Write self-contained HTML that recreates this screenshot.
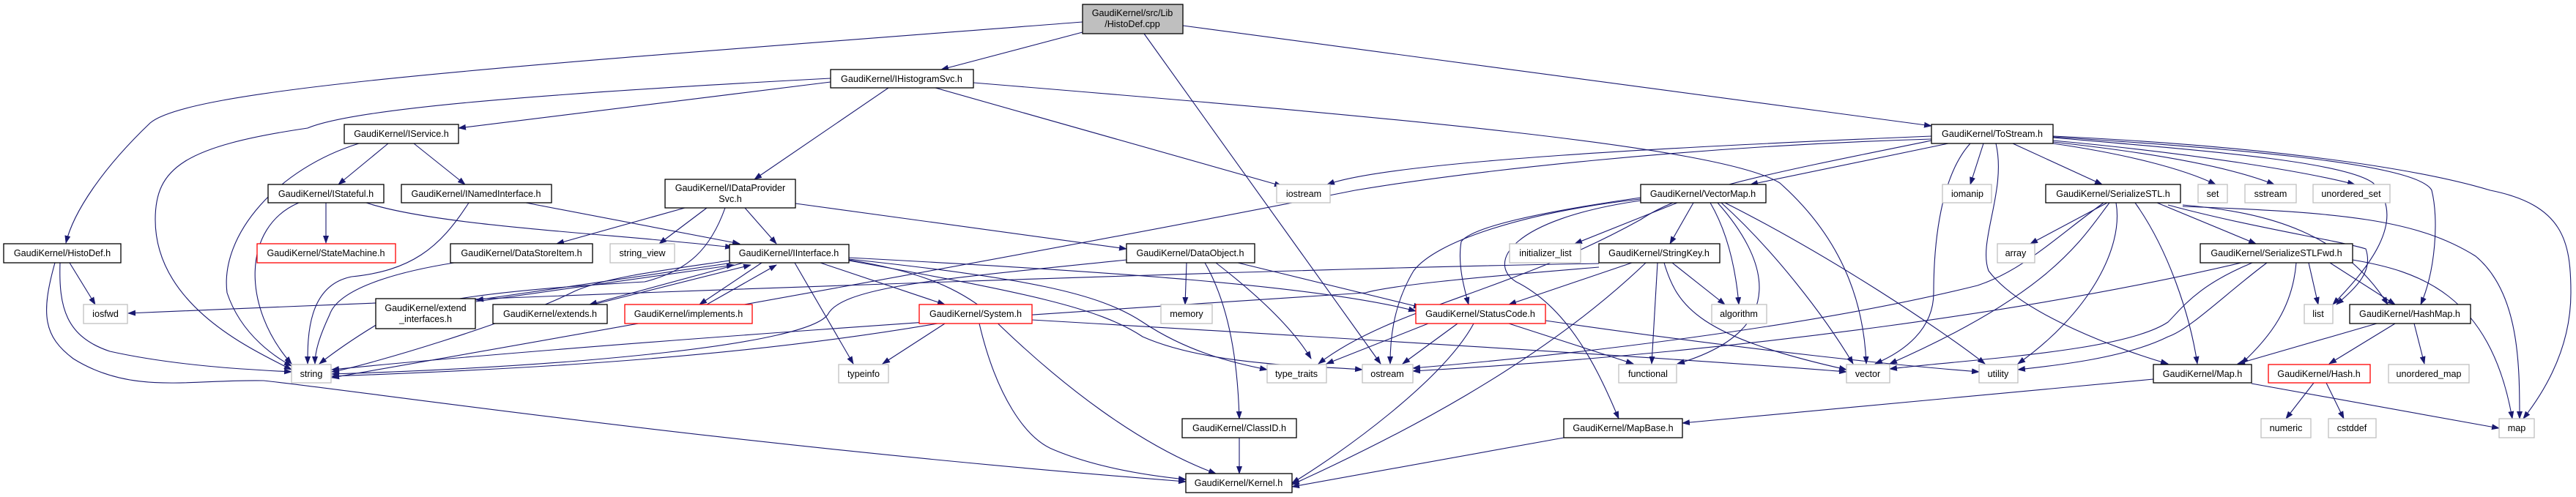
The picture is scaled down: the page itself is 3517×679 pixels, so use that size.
<!DOCTYPE html>
<html><head><meta charset="utf-8"><style>
html,body{margin:0;padding:0;background:#fff;}
svg{display:block}
text{font-family:"Liberation Sans",Arial,sans-serif;font-size:12.6px;fill:#000;text-anchor:middle}
.n{fill:#fff;stroke:#000;stroke-width:1.3}
.g{fill:#fff;stroke:#bfbfbf;stroke-width:1.3}
.r{fill:#fff;stroke:#ff0000;stroke-width:1.3}
.e{fill:none;stroke:#191970;stroke-width:1.1;marker-end:url(#a)}
</style></head><body>
<svg width="3517" height="679" viewBox="0 0 3517 679" xmlns="http://www.w3.org/2000/svg">
<defs><marker id="a" markerWidth="11" markerHeight="8" refX="10" refY="4" orient="auto" markerUnits="userSpaceOnUse"><path d="M0,0 L11,4 L0,8 z" fill="#191970"/></marker></defs>
<g>
<path class="e" d="M1478,30 C700,90 260,120 205,168 C140,230 100,290 90,332"/>
<path class="e" d="M1478,44 L1285,95"/>
<path class="e" d="M1615,35 L2637,172"/>
<path class="e" d="M1562,46 L1885,497"/>
<path class="e" d="M1134,112 L626,175"/>
<path class="e" d="M1134,107 C700,130 480,150 420,175 C250,200 212,230 212,300 C212,420 350,480 398,505"/>
<path class="e" d="M1213,120 L1030,245"/>
<path class="e" d="M1277,120 L1750,254"/>
<path class="e" d="M1329,113 C1900,160 2350,200 2430,250 C2520,330 2545,420 2548,497"/>
<path class="e" d="M490,196 C380,230 300,320 310,400 C330,460 380,490 398,500"/>
<path class="e" d="M530,196 L462,252"/>
<path class="e" d="M565,196 L635,252"/>
<path class="e" d="M445,277 L445,332"/>
<path class="e" d="M408,277 C330,310 330,420 398,497"/>
<path class="e" d="M500,277 C600,310 850,320 1000,338"/>
<path class="e" d="M640,277 C600,340 560,370 480,378 C420,390 420,460 420,497"/>
<path class="e" d="M718,277 L1010,333"/>
<path class="e" d="M935,284 L760,333"/>
<path class="e" d="M965,284 L900,333"/>
<path class="e" d="M1017,284 L1060,333"/>
<path class="e" d="M1086,278 L1538,340"/>
<path class="e" d="M990,284 C970,340 940,370 880,385 C700,395 560,410 520,440 C470,470 445,490 436,497"/>
<path class="e" d="M620,359 C520,375 460,400 450,430 C436,460 430,480 430,497"/>
<path class="e" d="M95,359 L130,416"/>
<path class="e" d="M82,359 C80,420 90,460 150,480 C240,500 340,505 398,508"/>
<path class="e" d="M75,359 C55,430 60,460 100,490 C180,540 260,518 360,520 C500,535 1000,610 1619,658"/>
<path class="e" d="M1000,359 L650,410"/>
<path class="e" d="M650,412 L1002,362"/>
<path class="e" d="M1015,359 L805,416"/>
<path class="e" d="M810,416 L1025,362"/>
<path class="e" d="M1040,359 L955,416"/>
<path class="e" d="M965,416 L1060,362"/>
<path class="e" d="M1120,359 L1290,416"/>
<path class="e" d="M1085,359 L1165,497"/>
<path class="e" d="M1159,355 C1250,370 1300,390 1340,420 C1450,530 1560,610 1660,647"/>
<path class="e" d="M1159,356 C1400,400 1500,420 1560,460 C1650,500 1800,500 1860,505"/>
<path class="e" d="M1159,352 C1500,370 1800,390 1933,425"/>
<path class="e" d="M1159,354 C1400,380 1500,400 1560,440 C1620,480 1680,495 1730,505"/>
<path class="e" d="M996,356 C900,370 820,380 780,400 C700,440 500,500 453,508"/>
<path class="e" d="M2183,360 C1800,366 900,397 175,428"/>
<path class="e" d="M1620,359 L1618,416"/>
<path class="e" d="M1645,359 C1680,420 1690,500 1692,572"/>
<path class="e" d="M1660,359 C1700,390 1760,440 1790,490"/>
<path class="e" d="M1690,359 L1940,420"/>
<path class="e" d="M1538,355 C1300,380 1150,390 1130,430 C1100,470 800,500 453,511"/>
<path class="e" d="M1290,442 L1205,497"/>
<path class="e" d="M1280,442 C1000,490 700,505 453,514"/>
<path class="e" d="M1337,442 C1360,540 1400,600 1440,615 C1500,640 1570,650 1619,655"/>
<path class="e" d="M1409,437 C1800,460 2300,490 2521,508"/>
<path class="e" d="M1990,442 L1915,497"/>
<path class="e" d="M1950,442 L1811,497"/>
<path class="e" d="M2060,442 L2230,497"/>
<path class="e" d="M2110,438 C2400,480 2600,500 2702,508"/>
<path class="e" d="M2012,442 C1970,520 1830,620 1764,660"/>
<path class="e" d="M1692,598 L1692,647"/>
<path class="e" d="M2135,598 L1764,665"/>
<path class="e" d="M2637,186 C2300,200 1900,220 1812,252"/>
<path class="e" d="M2660,196 L2390,252"/>
<path class="e" d="M2708,196 L2690,252"/>
<path class="e" d="M2748,196 L2870,252"/>
<path class="e" d="M2803,196 C2900,210 2980,230 3025,252"/>
<path class="e" d="M2803,194 C2950,210 3050,230 3105,252"/>
<path class="e" d="M2803,192 C3000,210 3150,235 3215,252"/>
<path class="e" d="M2803,188 C3000,205 3200,220 3240,250 C3290,300 3230,370 3185,416"/>
<path class="e" d="M2803,187 C3000,200 3300,220 3320,260 C3330,300 3325,370 3305,416"/>
<path class="e" d="M2803,186 C3100,200 3300,230 3400,260 C3500,280 3510,330 3510,400 C3510,480 3470,540 3445,572"/>
<path class="e" d="M2690,196 C2650,240 2640,330 2640,400 C2640,450 2600,480 2560,497"/>
<path class="e" d="M2725,196 C2740,260 2700,330 2715,370 C2760,430 2900,480 2960,497"/>
<path class="e" d="M2637,192 C2400,240 2300,260 2240,300 C2060,400 1900,420 1800,497"/>
<path class="e" d="M2637,190 C2300,200 2000,235 1850,260 C1500,330 1000,420 453,516"/>
<path class="e" d="M2290,277 L2150,333"/>
<path class="e" d="M2312,277 L2280,333"/>
<path class="e" d="M2240,270 C2100,290 2010,310 1995,330 C1990,360 1998,390 2005,416"/>
<path class="e" d="M2335,277 C2360,320 2370,370 2374,416"/>
<path class="e" d="M2350,277 C2420,340 2490,430 2530,497"/>
<path class="e" d="M2345,277 C2410,350 2450,450 2290,497"/>
<path class="e" d="M2355,277 C2500,350 2650,450 2710,497"/>
<path class="e" d="M2240,274 C2060,300 2030,360 2070,385 C2140,420 2180,500 2210,572"/>
<path class="e" d="M2240,272 C2080,290 1960,330 1930,370 C1900,420 1898,470 1898,497"/>
<path class="e" d="M2228,359 L2060,416"/>
<path class="e" d="M2283,359 L2355,416"/>
<path class="e" d="M2263,359 L2255,497"/>
<path class="e" d="M2272,359 C2290,420 2320,460 2521,505"/>
<path class="e" d="M2247,359 C2100,500 1900,600 1764,662"/>
<path class="e" d="M2183,365 C2000,380 1900,390 1864,400 C1400,430 800,470 453,505"/>
<path class="e" d="M2877,277 L2772,333"/>
<path class="e" d="M2945,277 L3080,333"/>
<path class="e" d="M2915,277 C2960,340 2990,430 3000,497"/>
<path class="e" d="M2980,280 C3100,290 3200,320 3260,416"/>
<path class="e" d="M2960,280 C3070,310 3200,330 3230,340 C3240,370 3220,390 3190,416"/>
<path class="e" d="M2980,282 C3200,290 3300,300 3380,350 C3440,400 3440,500 3440,572"/>
<path class="e" d="M2889,277 C2900,340 2850,430 2755,497"/>
<path class="e" d="M2880,277 C2840,330 2800,400 2580,497"/>
<path class="e" d="M2872,277 C2800,330 2760,370 2700,390 C2500,440 2200,480 1929,503"/>
<path class="e" d="M3152,359 L3165,416"/>
<path class="e" d="M3181,359 L3270,416"/>
<path class="e" d="M3212,355 C3300,370 3400,400 3430,572"/>
<path class="e" d="M3135,359 C3130,420 3100,460 3060,497"/>
<path class="e" d="M3095,359 C3040,400 2990,450 2960,460 C2900,490 2800,500 2755,505"/>
<path class="e" d="M3075,359 C3000,390 2980,420 2960,440 C2900,480 2700,490 2580,504"/>
<path class="e" d="M3060,359 C2800,420 2400,480 1929,507"/>
<path class="e" d="M3245,442 L3055,497"/>
<path class="e" d="M3270,442 L3180,497"/>
<path class="e" d="M3296,442 L3310,497"/>
<path class="e" d="M3159,523 L3121,572"/>
<path class="e" d="M3176,523 L3200,572"/>
<path class="e" d="M3074,524 L3412,585"/>
<path class="e" d="M2940,518 L2297,578"/>
</g>
<g>
<rect x="1478" y="6" width="137" height="40" fill="#bfbfbf" stroke="#000" stroke-width="1.3"/>
<text x="1546" y="22">GaudiKernel/src/Lib</text><text x="1546" y="37">/HistoDef.cpp</text>
<rect class="n" x="1134" y="95" width="195" height="25"/><text x="1231" y="112">GaudiKernel/IHistogramSvc.h</text>
<rect class="n" x="470" y="170" width="156" height="26"/><text x="548" y="187">GaudiKernel/IService.h</text>
<rect class="n" x="2637" y="170" width="166" height="26"/><text x="2720" y="187">GaudiKernel/ToStream.h</text>
<rect class="n" x="366" y="252" width="158" height="25"/><text x="445" y="269">GaudiKernel/IStateful.h</text>
<rect class="n" x="548" y="252" width="205" height="25"/><text x="650" y="269">GaudiKernel/INamedInterface.h</text>
<rect class="n" x="908" y="245" width="178" height="39"/><text x="997" y="261">GaudiKernel/IDataProvider</text><text x="997" y="276">Svc.h</text>
<rect class="g" x="1743" y="252" width="73" height="25"/><text x="1780" y="269">iostream</text>
<rect class="n" x="2240" y="252" width="171" height="25"/><text x="2325" y="269">GaudiKernel/VectorMap.h</text>
<rect class="g" x="2652" y="252" width="67" height="25"/><text x="2686" y="269">iomanip</text>
<rect class="n" x="2793" y="252" width="184" height="25"/><text x="2885" y="269">GaudiKernel/SerializeSTL.h</text>
<rect class="g" x="3001" y="252" width="40" height="25"/><text x="3021" y="269">set</text>
<rect class="g" x="3065" y="252" width="70" height="25"/><text x="3100" y="269">sstream</text>
<rect class="g" x="3158" y="252" width="105" height="25"/><text x="3210" y="269">unordered_set</text>
<rect class="n" x="5" y="333" width="160" height="26"/><text x="85" y="350">GaudiKernel/HistoDef.h</text>
<rect class="r" x="351" y="333" width="189" height="26"/><text x="445" y="350">GaudiKernel/StateMachine.h</text>
<rect class="n" x="615" y="333" width="194" height="26"/><text x="712" y="350">GaudiKernel/DataStoreItem.h</text>
<rect class="g" x="833" y="333" width="88" height="26"/><text x="877" y="350">string_view</text>
<rect class="n" x="996" y="334" width="163" height="25"/><text x="1077" y="350">GaudiKernel/IInterface.h</text>
<rect class="n" x="1538" y="333" width="175" height="26"/><text x="1625" y="350">GaudiKernel/DataObject.h</text>
<rect class="g" x="2061" y="333" width="97" height="26"/><text x="2110" y="350">initializer_list</text>
<rect class="n" x="2183" y="333" width="165" height="26"/><text x="2265" y="350">GaudiKernel/StringKey.h</text>
<rect class="g" x="2727" y="333" width="51" height="26"/><text x="2752" y="350">array</text>
<rect class="n" x="3004" y="333" width="208" height="26"/><text x="3108" y="350">GaudiKernel/SerializeSTLFwd.h</text>
<rect class="g" x="114" y="416" width="60" height="26"/><text x="144" y="433">iosfwd</text>
<rect class="n" x="513" y="408" width="136" height="41"/><text x="581" y="425">GaudiKernel/extend</text><text x="581" y="440">_interfaces.h</text>
<rect class="n" x="673" y="416" width="156" height="26"/><text x="751" y="433">GaudiKernel/extends.h</text>
<rect class="r" x="853" y="416" width="174" height="26"/><text x="940" y="433">GaudiKernel/implements.h</text>
<rect class="r" x="1255" y="416" width="154" height="26"/><text x="1332" y="433">GaudiKernel/System.h</text>
<rect class="g" x="1585" y="416" width="70" height="26"/><text x="1620" y="433">memory</text>
<rect class="r" x="1933" y="416" width="177" height="26"/><text x="2021" y="433">GaudiKernel/StatusCode.h</text>
<rect class="g" x="2337" y="416" width="75" height="26"/><text x="2374" y="433">algorithm</text>
<rect class="g" x="3146" y="416" width="39" height="26"/><text x="3165" y="433">list</text>
<rect class="n" x="3208" y="416" width="165" height="26"/><text x="3290" y="433">GaudiKernel/HashMap.h</text>
<rect class="g" x="398" y="498" width="54" height="25"/><text x="425" y="515">string</text>
<rect class="g" x="1145" y="498" width="68" height="25"/><text x="1179" y="515">typeinfo</text>
<rect class="g" x="1730" y="498" width="81" height="25"/><text x="1770" y="515">type_traits</text>
<rect class="g" x="1860" y="498" width="69" height="25"/><text x="1894" y="515">ostream</text>
<rect class="g" x="2210" y="498" width="79" height="25"/><text x="2250" y="515">functional</text>
<rect class="g" x="2521" y="498" width="59" height="25"/><text x="2550" y="515">vector</text>
<rect class="g" x="2702" y="498" width="53" height="25"/><text x="2728" y="515">utility</text>
<rect class="n" x="2940" y="498" width="134" height="25"/><text x="3007" y="515">GaudiKernel/Map.h</text>
<rect class="r" x="3097" y="498" width="139" height="25"/><text x="3166" y="515">GaudiKernel/Hash.h</text>
<rect class="g" x="3261" y="498" width="110" height="25"/><text x="3316" y="515">unordered_map</text>
<rect class="n" x="1614" y="572" width="156" height="26"/><text x="1692" y="589">GaudiKernel/ClassID.h</text>
<rect class="n" x="2135" y="572" width="162" height="26"/><text x="2216" y="589">GaudiKernel/MapBase.h</text>
<rect class="g" x="3087" y="572" width="68" height="26"/><text x="3121" y="589">numeric</text>
<rect class="g" x="3179" y="572" width="65" height="26"/><text x="3211" y="589">cstddef</text>
<rect class="g" x="3412" y="572" width="48" height="26"/><text x="3436" y="589">map</text>
<rect class="n" x="1619" y="647" width="145" height="26"/><text x="1691" y="664">GaudiKernel/Kernel.h</text>
</g>
</svg>
</body></html>
